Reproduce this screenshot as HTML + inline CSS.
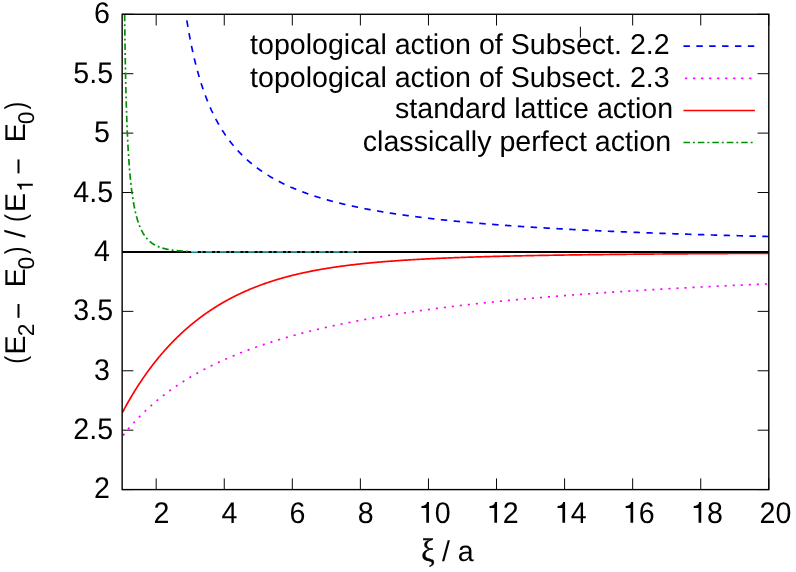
<!DOCTYPE html>
<html><head><meta charset="utf-8"><title>plot</title>
<style>
html,body{margin:0;padding:0;background:#fff;overflow:hidden}
svg{display:block;will-change:transform}
text{font-family:"Liberation Sans",sans-serif;font-size:28.6px;fill:#000;text-rendering:geometricPrecision}
</style></head><body>
<svg width="796" height="572" viewBox="0 0 796 572">
<rect width="796" height="572" fill="#fff"/>
<defs><clipPath id="c"><rect x="122.15" y="14.28" width="646.65" height="475.32000000000005"/></clipPath></defs>

<path d="M156.18,489.6 v-11.2 M156.18,14.28 v11.2 M224.25,489.6 v-11.2 M224.25,14.28 v11.2 M292.32,489.6 v-11.2 M292.32,14.28 v11.2 M360.39,489.6 v-11.2 M360.39,14.28 v11.2 M428.46,489.6 v-11.2 M428.46,14.28 v11.2 M496.53,489.6 v-11.2 M496.53,14.28 v11.2 M564.59,489.6 v-11.2 M580.4,26.7 V37.7 M632.66,489.6 v-11.2 M632.66,14.28 v11.2 M700.73,489.6 v-11.2 M700.73,14.28 v11.2 M768.80,489.6 v-11.2 M768.80,14.28 v11.2 M122.15,489.60 h11.2 M768.8,489.60 h-11.2 M122.15,430.19 h11.2 M768.8,430.19 h-11.2 M122.15,370.77 h11.2 M768.8,370.77 h-11.2 M122.15,311.36 h11.2 M768.8,311.36 h-11.2 M122.15,251.94 h11.2 M768.8,251.94 h-11.2 M122.15,192.52 h11.2 M768.8,192.52 h-11.2 M122.15,133.11 h11.2 M768.8,133.11 h-11.2 M122.15,73.69 h11.2 M768.8,73.69 h-11.2 M122.15,14.28 h11.2 M768.8,14.28 h-11.2" stroke="#000" stroke-width="0.98" fill="none"/>
<g clip-path="url(#c)" fill="none" stroke-width="1.68">
<path d="M186.84,20.48 L186.95,21.13 L187.05,21.78 L187.16,22.42 L187.26,23.06 L187.37,23.70 L187.47,24.34 L187.58,24.97 L187.69,25.60 L187.79,26.22 L187.90,26.85 L188.00,27.47 L188.11,28.09 L188.22,28.70 L188.33,29.31 L188.43,29.92 L188.54,30.53 L188.65,31.13 L188.76,31.74 L188.86,32.33 L188.97,32.93 L189.08,33.52 L189.20,34.18 L189.32,34.83 L189.44,35.48 L189.56,36.13 L189.68,36.77 L189.81,37.41 L189.93,38.05 L190.05,38.68 L190.17,39.31 L190.29,39.94 L190.42,40.57 L190.54,41.19 L190.66,41.81 L190.78,42.42 L190.91,43.04 L191.03,43.65 L191.15,44.26 L191.28,44.86 L191.40,45.46 L191.53,46.06 L191.65,46.66 L191.78,47.25 L191.90,47.84 L192.03,48.43 L192.15,49.02 L192.28,49.60 L192.40,50.18 L192.53,50.76 L192.65,51.33 L192.79,51.96 L192.93,52.59 L193.07,53.21 L193.21,53.83 L193.35,54.45 L193.49,55.06 L193.63,55.67 L193.77,56.28 L193.91,56.89 L194.06,57.49 L194.20,58.09 L194.34,58.69 L194.48,59.28 L194.62,59.87 L194.77,60.46 L194.91,61.04 L195.05,61.63 L195.20,62.21 L195.34,62.78 L195.48,63.36 L195.63,63.93 L195.77,64.50 L195.92,65.07 L196.06,65.63 L196.21,66.19 L196.35,66.75 L196.50,67.31 L196.66,67.91 L196.82,68.51 L196.98,69.11 L197.14,69.70 L197.30,70.30 L197.46,70.89 L197.62,71.47 L197.79,72.06 L197.95,72.64 L198.11,73.21 L198.27,73.79 L198.44,74.36 L198.60,74.93 L198.76,75.50 L198.93,76.06 L199.09,76.62 L199.26,77.18 L199.42,77.74 L199.59,78.29 L199.75,78.84 L199.92,79.39 L200.09,79.94 L200.25,80.48 L200.42,81.02 L200.59,81.56 L200.76,82.10 L200.92,82.63 L201.11,83.21 L201.29,83.78 L201.47,84.35 L201.66,84.91 L201.84,85.48 L202.03,86.04 L202.21,86.60 L202.40,87.15 L202.58,87.71 L202.77,88.26 L202.96,88.81 L203.14,89.35 L203.33,89.89 L203.52,90.43 L203.71,90.97 L203.90,91.51 L204.09,92.04 L204.28,92.57 L204.47,93.10 L204.66,93.62 L204.85,94.14 L205.04,94.66 L205.23,95.18 L205.43,95.70 L205.62,96.21 L205.81,96.72 L206.01,97.23 L206.20,97.73 L206.41,98.27 L206.62,98.81 L206.83,99.35 L207.04,99.89 L207.26,100.42 L207.47,100.95 L207.68,101.47 L207.89,102.00 L208.11,102.52 L208.32,103.04 L208.54,103.55 L208.75,104.07 L208.97,104.58 L209.19,105.09 L209.40,105.60 L209.62,106.10 L209.84,106.60 L210.06,107.10 L210.28,107.60 L210.50,108.09 L210.72,108.59 L210.94,109.08 L211.16,109.57 L211.39,110.05 L211.61,110.53 L211.83,111.02 L212.06,111.50 L212.28,111.97 L212.51,112.45 L212.75,112.95 L212.99,113.46 L213.23,113.96 L213.48,114.46 L213.72,114.96 L213.97,115.45 L214.21,115.94 L214.46,116.43 L214.71,116.92 L214.95,117.40 L215.20,117.89 L215.45,118.37 L215.70,118.85 L215.95,119.32 L216.20,119.80 L216.46,120.27 L216.71,120.74 L216.96,121.20 L217.22,121.67 L217.47,122.13 L217.73,122.59 L217.98,123.05 L218.24,123.51 L218.50,123.96 L218.76,124.42 L219.02,124.87 L219.28,125.32 L219.54,125.76 L219.80,126.21 L220.06,126.65 L220.32,127.09 L220.59,127.53 L220.85,127.96 L221.13,128.43 L221.42,128.89 L221.70,129.35 L221.99,129.80 L222.27,130.26 L222.56,130.71 L222.85,131.16 L223.14,131.61 L223.43,132.06 L223.72,132.50 L224.01,132.94 L224.30,133.38 L224.60,133.82 L224.89,134.26 L225.19,134.69 L225.48,135.13 L225.78,135.56 L226.08,135.98 L226.37,136.41 L226.67,136.83 L226.97,137.26 L227.28,137.68 L227.58,138.10 L227.88,138.51 L228.19,138.93 L228.49,139.34 L228.80,139.75 L229.10,140.16 L229.41,140.57 L229.72,140.98 L230.03,141.38 L230.34,141.78 L230.65,142.18 L230.97,142.58 L231.28,142.98 L231.60,143.37 L231.91,143.77 L232.23,144.16 L232.55,144.55 L232.87,144.94 L233.19,145.33 L233.51,145.71 L233.83,146.10 L234.15,146.48 L234.48,146.86 L234.80,147.24 L235.13,147.61 L235.45,147.99 L235.78,148.36 L236.11,148.74 L236.44,149.11 L236.77,149.48 L237.12,149.87 L237.48,150.25 L237.83,150.64 L238.19,151.03 L238.55,151.41 L238.91,151.79 L239.27,152.17 L239.63,152.55 L239.99,152.93 L240.36,153.31 L240.72,153.68 L241.09,154.05 L241.46,154.42 L241.82,154.79 L242.19,155.16 L242.57,155.52 L242.94,155.89 L243.31,156.25 L243.69,156.61 L244.06,156.97 L244.44,157.33 L244.82,157.69 L245.20,158.04 L245.58,158.40 L245.97,158.75 L246.35,159.10 L246.74,159.45 L247.13,159.79 L247.51,160.14 L247.90,160.49 L248.30,160.83 L248.69,161.17 L249.08,161.51 L249.48,161.85 L249.87,162.19 L250.27,162.52 L250.67,162.86 L251.07,163.19 L251.48,163.52 L251.88,163.85 L252.29,164.18 L252.69,164.51 L253.10,164.84 L253.51,165.16 L253.92,165.49 L254.33,165.81 L254.75,166.13 L255.16,166.45 L255.58,166.77 L256.00,167.09 L256.42,167.41 L256.84,167.72 L257.26,168.03 L257.69,168.35 L258.11,168.66 L258.54,168.97 L258.97,169.28 L259.40,169.58 L259.84,169.89 L260.27,170.20 L260.70,170.50 L261.14,170.80 L261.58,171.10 L262.02,171.40 L262.46,171.70 L262.91,172.00 L263.35,172.30 L263.80,172.59 L264.25,172.89 L264.70,173.18 L265.12,173.46 L265.55,173.73 L265.98,174.00 L266.41,174.28 L266.84,174.55 L267.27,174.82 L267.70,175.09 L268.14,175.36 L268.58,175.62 L269.01,175.89 L269.45,176.15 L269.90,176.42 L270.34,176.68 L270.78,176.95 L271.23,177.21 L271.68,177.47 L272.13,177.73 L272.58,177.99 L273.03,178.24 L273.49,178.50 L273.94,178.76 L274.40,179.01 L274.86,179.27 L275.32,179.52 L275.78,179.77 L276.24,180.02 L276.71,180.27 L277.18,180.52 L277.65,180.77 L278.12,181.02 L278.59,181.27 L279.06,181.51 L279.54,181.76 L280.02,182.00 L280.50,182.25 L280.98,182.49 L281.46,182.73 L281.94,182.97 L282.43,183.21 L282.92,183.45 L283.41,183.69 L283.90,183.93 L284.39,184.17 L284.89,184.40 L285.39,184.64 L285.88,184.87 L286.38,185.11 L286.89,185.34 L287.39,185.57 L287.90,185.81 L288.40,186.04 L288.91,186.27 L289.43,186.50 L289.94,186.72 L290.46,186.95 L290.97,187.18 L291.49,187.40 L292.01,187.63 L292.50,187.84 L293.00,188.05 L293.49,188.26 L293.98,188.47 L294.48,188.68 L294.98,188.88 L295.48,189.09 L295.98,189.30 L296.49,189.50 L296.99,189.71 L297.50,189.91 L298.01,190.11 L298.52,190.32 L299.04,190.52 L299.55,190.72 L300.07,190.92 L300.59,191.12 L301.11,191.32 L301.63,191.52 L302.15,191.72 L302.68,191.92 L303.21,192.11 L303.74,192.31 L304.27,192.51 L304.80,192.70 L305.34,192.90 L305.88,193.09 L306.42,193.28 L306.96,193.48 L307.50,193.67 L308.05,193.86 L308.59,194.05 L309.14,194.24 L309.69,194.43 L310.25,194.62 L310.80,194.81 L311.36,195.00 L311.92,195.19 L312.48,195.38 L313.04,195.56 L313.57,195.74 L314.10,195.91 L314.63,196.08 L315.16,196.25 L315.70,196.43 L316.24,196.60 L316.77,196.77 L317.31,196.94 L317.86,197.11 L318.40,197.28 L318.95,197.45 L319.49,197.62 L320.04,197.78 L320.60,197.95 L321.15,198.12 L321.71,198.28 L322.26,198.45 L322.82,198.62 L323.38,198.78 L323.95,198.95 L324.51,199.11 L325.08,199.27 L325.65,199.44 L326.22,199.60 L326.79,199.76 L327.37,199.93 L327.94,200.09 L328.52,200.25 L329.11,200.41 L329.69,200.57 L330.27,200.73 L330.86,200.89 L331.45,201.05 L332.04,201.21 L332.64,201.36 L333.23,201.52 L333.79,201.67 L334.34,201.81 L334.90,201.96 L335.46,202.10 L336.03,202.25 L336.59,202.39 L337.16,202.54 L337.72,202.68 L338.29,202.82 L338.87,202.96 L339.44,203.11 L340.02,203.25 L340.59,203.39 L341.17,203.53 L341.75,203.67 L342.34,203.81 L342.92,203.95 L343.51,204.09 L344.10,204.23 L344.69,204.37 L345.29,204.51 L345.88,204.65 L346.48,204.79 L347.08,204.92 L347.68,205.06 L348.28,205.20 L348.89,205.34 L349.50,205.47 L350.10,205.61 L350.72,205.74 L351.33,205.88 L351.95,206.01 L352.56,206.15 L353.18,206.28 L353.81,206.42 L354.43,206.55 L355.01,206.67 L355.59,206.80 L356.17,206.92 L356.75,207.04 L357.34,207.16 L357.93,207.29 L358.52,207.41 L359.11,207.53 L359.70,207.65 L360.30,207.77 L360.89,207.89 L361.49,208.01 L362.09,208.13 L362.70,208.25 L363.30,208.37 L363.91,208.49 L364.52,208.61 L365.13,208.72 L365.74,208.84 L366.35,208.96 L366.97,209.08 L367.59,209.19 L368.21,209.31 L368.83,209.43 L369.46,209.55 L370.08,209.66 L370.71,209.78 L371.34,209.89 L371.97,210.01 L372.61,210.12 L373.25,210.24 L373.88,210.35 L374.53,210.47 L375.17,210.58 L375.81,210.70 L376.46,210.81 L377.11,210.92 L377.71,211.03 L378.31,211.13 L378.91,211.23 L379.51,211.34 L380.12,211.44 L380.72,211.54 L381.33,211.65 L381.94,211.75 L382.55,211.85 L383.17,211.95 L383.78,212.05 L384.40,212.15 L385.02,212.26 L385.64,212.36 L386.26,212.46 L386.89,212.56 L387.51,212.66 L388.14,212.76 L388.77,212.86 L389.41,212.96 L390.04,213.06 L390.68,213.16 L391.32,213.26 L391.96,213.36 L392.60,213.45 L393.25,213.55 L393.89,213.65 L394.54,213.75 L395.19,213.85 L395.85,213.94 L396.50,214.04 L397.16,214.14 L397.82,214.24 L398.48,214.33 L399.14,214.43 L399.81,214.53 L400.47,214.62 L401.14,214.72 L401.81,214.82 L402.49,214.91 L403.10,215.00 L403.72,215.08 L404.33,215.17 L404.95,215.26 L405.57,215.34 L406.20,215.43 L406.82,215.52 L407.45,215.60 L408.08,215.69 L408.71,215.77 L409.34,215.86 L409.97,215.94 L410.61,216.03 L411.25,216.11 L411.89,216.20 L412.53,216.28 L413.17,216.37 L413.82,216.45 L414.46,216.53 L415.11,216.62 L415.76,216.70 L416.41,216.79 L417.07,216.87 L417.73,216.95 L418.38,217.04 L419.04,217.12 L419.71,217.20 L420.37,217.28 L421.04,217.37 L421.70,217.45 L422.37,217.53 L423.05,217.61 L423.72,217.69 L424.40,217.78 L425.07,217.86 L425.75,217.94 L426.44,218.02 L427.12,218.10 L427.81,218.18 L428.49,218.26 L429.18,218.34 L429.88,218.43 L430.57,218.51 L431.27,218.59 L431.90,218.66 L432.53,218.73 L433.16,218.80 L433.79,218.87 L434.43,218.95 L435.06,219.02 L435.70,219.09 L436.34,219.16 L436.99,219.23 L437.63,219.30 L438.28,219.37 L438.92,219.44 L439.57,219.51 L440.22,219.58 L440.88,219.65 L441.53,219.73 L442.19,219.80 L442.84,219.87 L443.50,219.94 L444.17,220.01 L444.83,220.08 L445.49,220.14 L446.16,220.21 L446.83,220.28 L447.50,220.35 L448.17,220.42 L448.85,220.49 L449.53,220.56 L450.20,220.63 L450.88,220.70 L451.57,220.77 L452.25,220.84 L452.94,220.90 L453.62,220.97 L454.31,221.04 L455.00,221.11 L455.70,221.18 L456.39,221.24 L457.09,221.31 L457.79,221.38 L458.49,221.45 L459.19,221.51 L459.90,221.58 L460.61,221.65 L461.32,221.72 L462.03,221.78 L462.74,221.85 L463.46,221.92 L464.17,221.98 L464.89,222.05 L465.61,222.12 L466.26,222.17 L466.90,222.23 L467.55,222.29 L468.19,222.35 L468.84,222.41 L469.49,222.47 L470.15,222.53 L470.80,222.58 L471.46,222.64 L472.11,222.70 L472.77,222.76 L473.43,222.82 L474.10,222.88 L474.76,222.93 L475.43,222.99 L476.09,223.05 L476.76,223.11 L477.43,223.16 L478.11,223.22 L478.78,223.28 L479.46,223.34 L480.13,223.39 L480.81,223.45 L481.49,223.51 L482.18,223.56 L482.86,223.62 L483.55,223.68 L484.24,223.73 L484.93,223.79 L485.62,223.85 L486.31,223.90 L487.01,223.96 L487.70,224.02 L488.40,224.07 L489.10,224.13 L489.81,224.18 L490.51,224.24 L491.22,224.30 L491.92,224.35 L492.63,224.41 L493.35,224.46 L494.06,224.52 L494.78,224.57 L495.49,224.63 L496.21,224.68 L496.93,224.74 L497.66,224.79 L498.38,224.85 L499.11,224.90 L499.83,224.96 L500.57,225.01 L501.30,225.07 L502.03,225.12 L502.77,225.18 L503.51,225.23 L504.25,225.29 L504.99,225.34 L505.73,225.40 L506.48,225.45 L507.13,225.50 L507.79,225.54 L508.45,225.59 L509.10,225.64 L509.76,225.69 L510.43,225.73 L511.09,225.78 L511.75,225.83 L512.42,225.87 L513.09,225.92 L513.76,225.97 L514.43,226.01 L515.10,226.06 L515.78,226.11 L516.45,226.15 L517.13,226.20 L517.81,226.25 L518.49,226.29 L519.17,226.34 L519.86,226.38 L520.54,226.43 L521.23,226.48 L521.92,226.52 L522.61,226.57 L523.30,226.61 L523.99,226.66 L524.69,226.71 L525.38,226.75 L526.08,226.80 L526.78,226.84 L527.48,226.89 L528.19,226.93 L528.89,226.98 L529.60,227.02 L530.31,227.07 L531.02,227.12 L531.73,227.16 L532.44,227.21 L533.16,227.25 L533.87,227.30 L534.59,227.34 L535.31,227.39 L536.04,227.43 L536.76,227.47 L537.48,227.52 L538.21,227.56 L538.94,227.61 L539.67,227.65 L540.40,227.70 L541.14,227.74 L541.87,227.79 L542.61,227.83 L543.35,227.88 L544.09,227.92 L544.83,227.96 L545.58,228.01 L546.33,228.05 L547.07,228.10 L547.82,228.14 L548.58,228.18 L549.33,228.23 L550.09,228.27 L550.84,228.32 L551.60,228.36 L552.36,228.40 L553.13,228.45 L553.89,228.49 L554.66,228.53 L555.43,228.58 L556.20,228.62 L556.97,228.66 L557.63,228.70 L558.30,228.74 L558.96,228.77 L559.63,228.81 L560.30,228.85 L560.97,228.88 L561.64,228.92 L562.32,228.96 L562.99,228.99 L563.67,229.03 L564.34,229.07 L565.02,229.10 L565.70,229.14 L566.39,229.18 L567.07,229.21 L567.75,229.25 L568.44,229.29 L569.13,229.32 L569.82,229.36 L570.51,229.40 L571.20,229.43 L571.89,229.47 L572.59,229.50 L573.28,229.54 L573.98,229.58 L574.68,229.61 L575.38,229.65 L576.08,229.68 L576.79,229.72 L577.49,229.76 L578.20,229.79 L578.91,229.83 L579.62,229.86 L580.33,229.90 L581.04,229.93 L581.76,229.97 L582.47,230.01 L583.19,230.04 L583.91,230.08 L584.63,230.11 L585.35,230.15 L586.08,230.18 L586.80,230.22 L587.53,230.25 L588.26,230.29 L588.99,230.32 L589.72,230.36 L590.45,230.40 L591.19,230.43 L591.92,230.47 L592.66,230.50 L593.40,230.54 L594.14,230.57 L594.88,230.61 L595.63,230.64 L596.37,230.68 L597.12,230.71 L597.87,230.74 L598.62,230.78 L599.37,230.81 L600.13,230.85 L600.88,230.88 L601.64,230.92 L602.40,230.95 L603.16,230.99 L603.92,231.02 L604.69,231.06 L605.45,231.09 L606.22,231.12 L606.99,231.16 L607.76,231.19 L608.53,231.23 L609.31,231.26 L610.08,231.30 L610.86,231.33 L611.64,231.36 L612.42,231.40 L613.20,231.43 L613.99,231.47 L614.77,231.50 L615.56,231.53 L616.35,231.57 L617.14,231.60 L617.94,231.64 L618.73,231.67 L619.53,231.70 L620.33,231.74 L621.13,231.77 L621.93,231.80 L622.73,231.84 L623.54,231.87 L624.21,231.90 L624.89,231.93 L625.56,231.95 L626.24,231.98 L626.92,232.01 L627.59,232.04 L628.27,232.07 L628.96,232.09 L629.64,232.12 L630.32,232.15 L631.01,232.18 L631.70,232.20 L632.38,232.23 L633.07,232.26 L633.76,232.29 L634.46,232.31 L635.15,232.34 L635.84,232.37 L636.54,232.40 L637.24,232.42 L637.93,232.45 L638.63,232.48 L639.34,232.51 L640.04,232.53 L640.74,232.56 L641.45,232.59 L642.15,232.62 L642.86,232.64 L643.57,232.67 L644.28,232.70 L644.99,232.72 L645.70,232.75 L646.42,232.78 L647.13,232.81 L647.85,232.83 L648.57,232.86 L649.29,232.89 L650.01,232.91 L650.73,232.94 L651.46,232.97 L652.18,232.99 L652.91,233.02 L653.64,233.05 L654.37,233.07 L655.10,233.10 L655.83,233.13 L656.57,233.16 L657.30,233.18 L658.04,233.21 L658.77,233.24 L659.51,233.26 L660.26,233.29 L661.00,233.31 L661.74,233.34 L662.49,233.37 L663.23,233.39 L663.98,233.42 L664.73,233.45 L665.48,233.47 L666.23,233.50 L666.99,233.53 L667.74,233.55 L668.50,233.58 L669.26,233.61 L670.02,233.63 L670.78,233.66 L671.54,233.68 L672.30,233.71 L673.07,233.74 L673.84,233.76 L674.61,233.79 L675.38,233.82 L676.15,233.84 L676.92,233.87 L677.69,233.89 L678.47,233.92 L679.25,233.95 L680.03,233.97 L680.81,234.00 L681.59,234.02 L682.37,234.05 L683.16,234.08 L683.95,234.10 L684.73,234.13 L685.52,234.15 L686.31,234.18 L687.11,234.20 L687.90,234.23 L688.70,234.26 L689.50,234.28 L690.29,234.31 L691.10,234.33 L691.90,234.36 L692.70,234.38 L693.51,234.41 L694.31,234.44 L695.12,234.46 L695.93,234.49 L696.75,234.51 L697.56,234.54 L698.37,234.56 L699.19,234.59 L700.01,234.61 L700.83,234.64 L701.65,234.66 L702.47,234.69 L703.30,234.71 L704.13,234.74 L704.95,234.76 L705.78,234.79 L706.61,234.82 L707.45,234.84 L708.28,234.87 L709.12,234.89 L709.96,234.92 L710.80,234.94 L711.64,234.97 L712.48,234.99 L713.33,235.02 L714.17,235.04 L715.02,235.07 L715.87,235.09 L716.55,235.11 L717.24,235.13 L717.92,235.15 L718.60,235.17 L719.29,235.19 L719.98,235.21 L720.66,235.23 L721.35,235.25 L722.04,235.27 L722.73,235.29 L723.43,235.31 L724.12,235.33 L724.81,235.35 L725.51,235.37 L726.21,235.39 L726.90,235.41 L727.60,235.43 L728.30,235.45 L729.00,235.47 L729.71,235.49 L730.41,235.51 L731.12,235.53 L731.82,235.55 L732.53,235.56 L733.24,235.58 L733.95,235.60 L734.66,235.62 L735.37,235.64 L736.08,235.66 L736.80,235.68 L737.51,235.70 L738.23,235.72 L738.94,235.74 L739.66,235.76 L740.38,235.78 L741.10,235.80 L741.83,235.82 L742.55,235.84 L743.27,235.86 L744.00,235.88 L744.73,235.90 L745.46,235.91 L746.19,235.93 L746.92,235.95 L747.65,235.97 L748.38,235.99 L749.11,236.01 L749.85,236.03 L750.59,236.05 L751.32,236.07 L752.06,236.09 L752.80,236.11 L753.55,236.13 L754.29,236.14 L755.03,236.16 L755.78,236.18 L756.52,236.20 L757.27,236.22 L758.02,236.24 L758.77,236.26 L759.52,236.28 L760.28,236.30 L761.03,236.32 L761.78,236.34 L762.54,236.35 L763.30,236.37 L764.06,236.39 L764.82,236.41 L765.58,236.43 L766.34,236.45 L767.11,236.47 L767.87,236.49 L768.64,236.51 L768.64,236.51" stroke="#0000ff" stroke-dasharray="6.44 6.44"/>
<path d="M122.15,436.58 L122.58,436.03 L123.01,435.48 L123.44,434.93 L123.87,434.39 L124.31,433.85 L124.74,433.31 L125.17,432.78 L125.60,432.25 L126.03,431.72 L126.46,431.20 L126.89,430.68 L127.32,430.16 L127.76,429.64 L128.19,429.13 L128.62,428.62 L129.05,428.12 L129.48,427.61 L129.91,427.11 L130.34,426.62 L130.77,426.12 L131.21,425.63 L131.64,425.14 L132.07,424.66 L132.50,424.17 L132.93,423.69 L133.36,423.21 L133.79,422.74 L134.22,422.27 L134.66,421.80 L135.09,421.33 L135.52,420.86 L135.95,420.40 L136.38,419.94 L136.81,419.49 L137.24,419.03 L137.67,418.58 L138.11,418.13 L138.54,417.68 L138.97,417.24 L139.40,416.80 L139.83,416.36 L140.26,415.92 L140.69,415.48 L141.12,415.05 L141.56,414.62 L141.99,414.19 L142.42,413.76 L142.85,413.34 L143.28,412.92 L143.71,412.50 L144.14,412.08 L144.57,411.67 L145.01,411.26 L145.44,410.84 L145.87,410.44 L146.30,410.03 L146.73,409.63 L147.16,409.22 L147.59,408.82 L148.02,408.43 L148.46,408.03 L148.89,407.63 L149.32,407.24 L149.75,406.85 L150.18,406.46 L150.61,406.08 L151.04,405.69 L151.47,405.31 L151.91,404.93 L152.34,404.55 L152.77,404.18 L153.20,403.80 L153.63,403.43 L154.06,403.06 L154.49,402.69 L154.92,402.32 L155.36,401.95 L155.79,401.59 L156.22,401.23 L156.65,400.87 L157.08,400.51 L157.51,400.15 L157.94,399.79 L158.37,399.44 L158.81,399.09 L159.24,398.74 L159.67,398.39 L160.10,398.04 L160.53,397.70 L160.96,397.35 L161.39,397.01 L161.82,396.67 L162.26,396.33 L162.69,395.99 L163.12,395.66 L163.55,395.32 L163.98,394.99 L164.41,394.66 L164.84,394.33 L165.27,394.00 L165.71,393.67 L166.14,393.35 L166.57,393.02 L167.00,392.70 L167.43,392.38 L167.86,392.06 L168.29,391.74 L168.72,391.43 L169.16,391.11 L169.59,390.80 L170.02,390.48 L170.45,390.17 L170.88,389.86 L171.31,389.55 L171.74,389.25 L172.17,388.94 L172.61,388.64 L173.04,388.33 L173.47,388.03 L173.90,387.73 L174.33,387.43 L174.76,387.13 L175.19,386.84 L175.62,386.54 L176.06,386.25 L176.49,385.96 L176.92,385.66 L177.35,385.37 L177.78,385.08 L178.21,384.80 L178.64,384.51 L179.07,384.22 L179.51,383.94 L179.94,383.66 L180.37,383.37 L180.80,383.09 L181.23,382.81 L181.66,382.54 L182.09,382.26 L182.52,381.98 L182.96,381.71 L183.39,381.43 L183.82,381.16 L184.25,380.89 L184.68,380.62 L185.11,380.35 L185.76,379.95 L186.41,379.55 L187.05,379.15 L187.70,378.75 L188.35,378.36 L188.99,377.97 L189.64,377.58 L190.29,377.20 L190.93,376.82 L191.58,376.43 L192.23,376.06 L192.87,375.68 L193.52,375.30 L194.17,374.93 L194.81,374.56 L195.46,374.19 L196.11,373.83 L196.76,373.46 L197.40,373.10 L198.05,372.74 L198.70,372.39 L199.34,372.03 L199.99,371.68 L200.64,371.33 L201.28,370.98 L201.93,370.63 L202.58,370.28 L203.22,369.94 L203.87,369.60 L204.52,369.26 L205.16,368.92 L205.81,368.58 L206.46,368.25 L207.11,367.92 L207.75,367.59 L208.40,367.26 L209.05,366.93 L209.69,366.61 L210.34,366.28 L210.99,365.96 L211.63,365.64 L212.28,365.32 L212.93,365.01 L213.57,364.69 L214.22,364.38 L214.87,364.07 L215.51,363.76 L216.16,363.45 L216.81,363.14 L217.45,362.84 L218.10,362.53 L218.75,362.23 L219.40,361.93 L220.04,361.63 L220.69,361.33 L221.34,361.04 L221.98,360.74 L222.63,360.45 L223.28,360.16 L223.92,359.87 L224.57,359.58 L225.22,359.30 L225.86,359.01 L226.51,358.73 L227.16,358.44 L227.80,358.16 L228.45,357.88 L229.10,357.61 L229.75,357.33 L230.39,357.05 L231.04,356.78 L231.69,356.51 L232.33,356.24 L232.98,355.97 L233.63,355.70 L234.27,355.43 L234.92,355.16 L235.57,354.90 L236.21,354.64 L236.86,354.37 L237.51,354.11 L238.15,353.85 L238.80,353.59 L239.45,353.34 L240.10,353.08 L240.74,352.83 L241.39,352.57 L242.04,352.32 L242.68,352.07 L243.33,351.82 L243.98,351.57 L244.62,351.32 L245.27,351.08 L245.92,350.83 L246.56,350.59 L247.21,350.35 L247.86,350.10 L248.50,349.86 L249.15,349.62 L249.80,349.39 L250.45,349.15 L251.09,348.91 L251.74,348.68 L252.39,348.44 L253.03,348.21 L253.68,347.98 L254.33,347.75 L254.97,347.52 L255.62,347.29 L256.27,347.06 L256.91,346.83 L257.56,346.61 L258.21,346.38 L258.85,346.16 L259.50,345.94 L260.15,345.72 L260.79,345.50 L261.44,345.28 L262.09,345.06 L262.74,344.84 L263.38,344.62 L264.03,344.41 L264.68,344.19 L265.32,343.98 L265.97,343.77 L266.62,343.55 L267.26,343.34 L267.91,343.13 L268.56,342.92 L269.20,342.72 L269.85,342.51 L270.50,342.30 L271.14,342.10 L271.79,341.89 L272.44,341.69 L273.09,341.48 L273.73,341.28 L274.38,341.08 L275.03,340.88 L275.67,340.68 L276.32,340.48 L276.97,340.29 L277.61,340.09 L278.26,339.89 L278.91,339.70 L279.55,339.50 L280.20,339.31 L280.85,339.12 L281.49,338.92 L282.14,338.73 L282.79,338.54 L283.44,338.35 L284.08,338.16 L284.73,337.98 L285.38,337.79 L286.02,337.60 L286.67,337.42 L287.32,337.23 L287.96,337.05 L288.61,336.86 L289.26,336.68 L289.90,336.50 L290.55,336.32 L291.20,336.14 L291.84,335.96 L292.49,335.78 L293.14,335.60 L293.79,335.42 L294.43,335.25 L295.08,335.07 L295.73,334.89 L296.37,334.72 L297.02,334.55 L297.67,334.37 L298.31,334.20 L298.96,334.03 L299.61,333.86 L300.25,333.69 L300.90,333.52 L301.55,333.35 L302.19,333.18 L302.84,333.01 L303.49,332.84 L304.13,332.68 L304.78,332.51 L305.43,332.34 L306.08,332.18 L306.72,332.02 L307.37,331.85 L308.02,331.69 L308.66,331.53 L309.31,331.37 L309.96,331.21 L310.60,331.05 L311.25,330.89 L311.90,330.73 L312.54,330.57 L313.19,330.41 L313.84,330.25 L314.48,330.10 L315.13,329.94 L315.78,329.79 L316.43,329.63 L317.07,329.48 L317.72,329.32 L318.37,329.17 L319.01,329.02 L319.66,328.87 L320.31,328.71 L320.95,328.56 L321.60,328.41 L322.25,328.26 L322.89,328.11 L323.54,327.97 L324.19,327.82 L324.83,327.67 L325.48,327.52 L326.13,327.38 L326.78,327.23 L327.42,327.09 L328.07,326.94 L328.72,326.80 L329.36,326.65 L330.01,326.51 L330.66,326.37 L331.30,326.23 L331.95,326.08 L332.60,325.94 L333.24,325.80 L333.89,325.66 L334.54,325.52 L335.18,325.38 L335.83,325.25 L336.48,325.11 L337.13,324.97 L337.77,324.83 L338.42,324.70 L339.07,324.56 L339.71,324.43 L340.36,324.29 L341.01,324.16 L341.65,324.02 L342.30,323.89 L342.95,323.75 L343.59,323.62 L344.24,323.49 L344.89,323.36 L345.53,323.23 L346.18,323.10 L346.83,322.97 L347.47,322.84 L348.12,322.71 L348.77,322.58 L349.42,322.45 L350.06,322.32 L350.71,322.19 L351.36,322.07 L352.00,321.94 L352.65,321.81 L353.30,321.69 L353.94,321.56 L354.59,321.44 L355.24,321.31 L355.88,321.19 L356.53,321.06 L357.18,320.94 L357.82,320.82 L358.47,320.70 L359.12,320.57 L359.77,320.45 L360.41,320.33 L361.06,320.21 L361.71,320.09 L362.35,319.97 L363.00,319.85 L363.65,319.73 L364.29,319.61 L364.94,319.49 L365.59,319.37 L366.23,319.26 L366.88,319.14 L367.53,319.02 L368.17,318.91 L368.82,318.79 L369.47,318.68 L370.12,318.56 L370.76,318.45 L371.41,318.33 L372.06,318.22 L372.70,318.10 L373.35,317.99 L374.00,317.88 L374.64,317.76 L375.29,317.65 L375.94,317.54 L376.58,317.43 L377.23,317.32 L377.88,317.21 L378.52,317.10 L379.17,316.99 L379.82,316.88 L380.47,316.77 L381.11,316.66 L381.76,316.55 L382.41,316.44 L383.05,316.33 L383.70,316.23 L384.35,316.12 L384.99,316.01 L385.64,315.90 L386.29,315.80 L386.93,315.69 L387.58,315.59 L388.23,315.48 L388.87,315.38 L389.52,315.27 L390.17,315.17 L390.81,315.06 L391.46,314.96 L392.11,314.86 L392.76,314.75 L393.40,314.65 L394.05,314.55 L394.70,314.45 L395.34,314.35 L395.99,314.25 L396.64,314.14 L397.28,314.04 L397.93,313.94 L398.58,313.84 L399.22,313.74 L399.87,313.64 L400.52,313.54 L401.16,313.45 L401.81,313.35 L402.46,313.25 L403.11,313.15 L403.75,313.05 L404.40,312.96 L405.05,312.86 L405.69,312.76 L406.34,312.67 L406.99,312.57 L407.63,312.47 L408.28,312.38 L408.93,312.28 L409.57,312.19 L410.22,312.09 L410.87,312.00 L411.51,311.91 L412.16,311.81 L412.81,311.72 L413.46,311.63 L414.10,311.53 L414.75,311.44 L415.40,311.35 L416.04,311.26 L416.69,311.16 L417.34,311.07 L417.98,310.98 L418.63,310.89 L419.28,310.80 L419.92,310.71 L420.57,310.62 L421.22,310.53 L421.86,310.44 L422.51,310.35 L423.16,310.26 L423.81,310.17 L424.45,310.08 L425.10,310.00 L425.75,309.91 L426.39,309.82 L427.04,309.73 L427.69,309.64 L428.33,309.56 L428.98,309.47 L429.63,309.38 L430.27,309.30 L430.92,309.21 L431.57,309.13 L432.21,309.04 L432.86,308.96 L433.51,308.87 L434.15,308.79 L434.80,308.70 L435.45,308.62 L436.10,308.53 L436.74,308.45 L437.39,308.37 L438.04,308.28 L438.68,308.20 L439.33,308.12 L439.98,308.03 L440.62,307.95 L441.27,307.87 L441.92,307.79 L442.56,307.71 L443.21,307.62 L443.86,307.54 L444.50,307.46 L445.15,307.38 L445.80,307.30 L446.45,307.22 L447.09,307.14 L447.74,307.06 L448.39,306.98 L449.03,306.90 L449.68,306.82 L450.33,306.74 L450.97,306.66 L451.62,306.59 L452.27,306.51 L452.91,306.43 L453.56,306.35 L454.21,306.27 L454.85,306.20 L455.50,306.12 L456.15,306.04 L456.80,305.97 L457.44,305.89 L458.09,305.81 L458.74,305.74 L459.38,305.66 L460.03,305.58 L460.68,305.51 L461.32,305.43 L461.97,305.36 L462.62,305.28 L463.26,305.21 L463.91,305.13 L464.56,305.06 L465.20,304.99 L465.85,304.91 L466.50,304.84 L467.14,304.77 L467.79,304.69 L468.44,304.62 L469.09,304.55 L469.73,304.47 L470.38,304.40 L471.03,304.33 L471.67,304.26 L472.32,304.18 L472.97,304.11 L473.61,304.04 L474.26,303.97 L474.91,303.90 L475.55,303.83 L476.20,303.76 L476.85,303.69 L477.49,303.62 L478.14,303.55 L478.79,303.48 L479.44,303.41 L480.08,303.34 L480.73,303.27 L481.38,303.20 L482.02,303.13 L482.67,303.06 L483.32,302.99 L483.96,302.92 L484.61,302.85 L485.26,302.79 L485.90,302.72 L486.55,302.65 L487.20,302.58 L487.84,302.51 L488.49,302.45 L489.14,302.38 L489.79,302.31 L490.43,302.25 L491.08,302.18 L491.73,302.11 L492.37,302.05 L493.02,301.98 L493.67,301.92 L494.31,301.85 L494.96,301.78 L495.61,301.72 L496.25,301.65 L496.90,301.59 L497.55,301.52 L498.19,301.46 L498.84,301.39 L499.49,301.33 L500.14,301.27 L500.78,301.20 L501.43,301.14 L502.08,301.07 L502.72,301.01 L503.37,300.95 L504.02,300.88 L504.66,300.82 L505.31,300.76 L505.96,300.69 L506.60,300.63 L507.25,300.57 L507.90,300.51 L508.54,300.44 L509.19,300.38 L509.84,300.32 L510.48,300.26 L511.13,300.20 L511.78,300.14 L512.43,300.07 L513.07,300.01 L513.72,299.95 L514.37,299.89 L515.01,299.83 L515.66,299.77 L516.31,299.71 L516.95,299.65 L517.60,299.59 L518.25,299.53 L518.89,299.47 L519.54,299.41 L520.19,299.35 L520.83,299.29 L521.48,299.23 L522.13,299.17 L522.78,299.12 L523.42,299.06 L524.07,299.00 L524.72,298.94 L525.36,298.88 L526.01,298.82 L526.66,298.76 L527.30,298.71 L527.95,298.65 L528.60,298.59 L529.24,298.53 L529.89,298.48 L530.54,298.42 L531.18,298.36 L531.83,298.31 L532.48,298.25 L533.13,298.19 L533.77,298.14 L534.42,298.08 L535.07,298.02 L535.71,297.97 L536.36,297.91 L537.01,297.86 L537.65,297.80 L538.30,297.74 L538.95,297.69 L539.59,297.63 L540.24,297.58 L540.89,297.52 L541.53,297.47 L542.18,297.41 L542.83,297.36 L543.48,297.30 L544.12,297.25 L544.77,297.20 L545.42,297.14 L546.06,297.09 L546.71,297.03 L547.36,296.98 L548.00,296.93 L548.65,296.87 L549.30,296.82 L549.94,296.77 L550.59,296.71 L551.45,296.64 L552.32,296.57 L553.18,296.50 L554.04,296.43 L554.90,296.36 L555.77,296.29 L556.63,296.22 L557.49,296.15 L558.35,296.09 L559.22,296.02 L560.08,295.95 L560.94,295.88 L561.80,295.81 L562.67,295.74 L563.53,295.68 L564.39,295.61 L565.25,295.54 L566.12,295.47 L566.98,295.41 L567.84,295.34 L568.70,295.27 L569.57,295.21 L570.43,295.14 L571.29,295.08 L572.15,295.01 L573.02,294.95 L573.88,294.88 L574.74,294.81 L575.60,294.75 L576.47,294.69 L577.33,294.62 L578.19,294.56 L579.05,294.49 L579.92,294.43 L580.78,294.36 L581.64,294.30 L582.50,294.24 L583.37,294.17 L584.23,294.11 L585.09,294.05 L585.95,293.99 L586.82,293.92 L587.68,293.86 L588.54,293.80 L589.40,293.74 L590.27,293.68 L591.13,293.61 L591.99,293.55 L592.85,293.49 L593.72,293.43 L594.58,293.37 L595.44,293.31 L596.30,293.25 L597.16,293.19 L598.03,293.13 L598.89,293.07 L599.75,293.01 L600.61,292.95 L601.48,292.89 L602.34,292.83 L603.20,292.77 L604.06,292.71 L604.93,292.65 L605.79,292.60 L606.65,292.54 L607.51,292.48 L608.38,292.42 L609.24,292.36 L610.10,292.31 L610.96,292.25 L611.83,292.19 L612.69,292.13 L613.55,292.08 L614.41,292.02 L615.28,291.96 L616.14,291.91 L617.00,291.85 L617.86,291.79 L618.73,291.74 L619.59,291.68 L620.45,291.63 L621.31,291.57 L622.18,291.51 L623.04,291.46 L623.90,291.40 L624.76,291.35 L625.63,291.29 L626.49,291.24 L627.35,291.18 L628.21,291.13 L629.08,291.08 L629.94,291.02 L630.80,290.97 L631.66,290.91 L632.53,290.86 L633.39,290.81 L634.25,290.75 L635.11,290.70 L635.98,290.65 L636.84,290.59 L637.70,290.54 L638.56,290.49 L639.43,290.44 L640.29,290.38 L641.15,290.33 L642.01,290.28 L642.88,290.23 L643.74,290.17 L644.60,290.12 L645.46,290.07 L646.33,290.02 L647.19,289.97 L648.05,289.92 L648.91,289.87 L649.78,289.82 L650.64,289.76 L651.50,289.71 L652.36,289.66 L653.23,289.61 L654.09,289.56 L654.95,289.51 L655.81,289.46 L656.68,289.41 L657.54,289.36 L658.40,289.31 L659.26,289.26 L660.13,289.21 L660.99,289.17 L661.85,289.12 L662.71,289.07 L663.58,289.02 L664.44,288.97 L665.30,288.92 L666.16,288.87 L667.03,288.82 L667.89,288.78 L668.75,288.73 L669.61,288.68 L670.48,288.63 L671.34,288.59 L672.20,288.54 L673.06,288.49 L673.93,288.44 L674.79,288.40 L675.65,288.35 L676.51,288.30 L677.38,288.26 L678.24,288.21 L679.10,288.16 L679.96,288.12 L680.83,288.07 L681.69,288.02 L682.55,287.98 L683.41,287.93 L684.28,287.88 L685.14,287.84 L686.00,287.79 L686.86,287.75 L687.73,287.70 L688.59,287.66 L689.45,287.61 L690.31,287.57 L691.18,287.52 L692.04,287.48 L692.90,287.43 L693.76,287.39 L694.63,287.34 L695.49,287.30 L696.35,287.25 L697.21,287.21 L698.08,287.17 L698.94,287.12 L699.80,287.08 L700.66,287.03 L701.53,286.99 L702.39,286.95 L703.25,286.90 L704.11,286.86 L704.98,286.82 L705.84,286.77 L706.70,286.73 L707.56,286.69 L708.43,286.65 L709.29,286.60 L710.15,286.56 L711.01,286.52 L711.88,286.48 L712.74,286.43 L713.60,286.39 L714.46,286.35 L715.33,286.31 L716.19,286.27 L717.05,286.22 L717.91,286.18 L718.78,286.14 L719.64,286.10 L720.50,286.06 L721.36,286.02 L722.23,285.98 L723.09,285.93 L723.95,285.89 L724.81,285.85 L725.68,285.81 L726.54,285.77 L727.40,285.73 L728.26,285.69 L729.13,285.65 L729.99,285.61 L730.85,285.57 L731.71,285.53 L732.58,285.49 L733.44,285.45 L734.30,285.41 L735.16,285.37 L736.03,285.33 L736.89,285.29 L737.75,285.25 L738.61,285.21 L739.48,285.17 L740.34,285.13 L741.20,285.09 L742.06,285.06 L742.93,285.02 L743.79,284.98 L744.65,284.94 L745.51,284.90 L746.38,284.86 L747.24,284.82 L748.10,284.78 L748.96,284.75 L749.83,284.71 L750.69,284.67 L751.55,284.63 L752.41,284.59 L753.28,284.56 L754.14,284.52 L755.00,284.48 L755.86,284.44 L756.73,284.41 L757.59,284.37 L758.45,284.33 L759.31,284.29 L760.18,284.26 L761.04,284.22 L761.90,284.18 L762.76,284.15 L763.63,284.11 L764.49,284.07 L765.35,284.04 L766.21,284.00 L767.08,283.96 L767.94,283.93 L768.80,283.89 L768.80,283.89" stroke="#ff00ff" stroke-dasharray="2.1 5.95" stroke-dashoffset="-1.4"/>
<path d="M122.15,412.96 L122.58,412.15 L123.01,411.34 L123.44,410.53 L123.87,409.73 L124.31,408.94 L124.74,408.14 L125.17,407.36 L125.60,406.57 L126.03,405.79 L126.46,405.02 L126.89,404.25 L127.32,403.48 L127.76,402.72 L128.19,401.97 L128.62,401.21 L129.05,400.46 L129.48,399.72 L129.91,398.98 L130.34,398.24 L130.77,397.51 L131.21,396.78 L131.64,396.05 L132.07,395.33 L132.50,394.61 L132.93,393.90 L133.36,393.19 L133.79,392.49 L134.22,391.78 L134.66,391.09 L135.09,390.39 L135.52,389.70 L135.95,389.01 L136.38,388.33 L136.81,387.65 L137.24,386.97 L137.67,386.30 L138.11,385.63 L138.54,384.97 L138.97,384.31 L139.40,383.65 L139.83,382.99 L140.26,382.34 L140.69,381.69 L141.12,381.05 L141.56,380.41 L141.99,379.77 L142.42,379.14 L142.85,378.51 L143.28,377.88 L143.71,377.25 L144.14,376.63 L144.57,376.01 L145.01,375.40 L145.44,374.79 L145.87,374.18 L146.30,373.57 L146.73,372.97 L147.16,372.37 L147.59,371.78 L148.02,371.18 L148.46,370.59 L148.89,370.01 L149.32,369.42 L149.75,368.84 L150.18,368.27 L150.61,367.69 L151.04,367.12 L151.47,366.55 L151.91,365.98 L152.34,365.42 L152.77,364.86 L153.20,364.30 L153.63,363.75 L154.06,363.20 L154.49,362.65 L154.92,362.10 L155.36,361.56 L155.79,361.02 L156.22,360.48 L156.65,359.95 L157.08,359.41 L157.51,358.88 L157.94,358.36 L158.37,357.83 L158.81,357.31 L159.24,356.79 L159.67,356.28 L160.10,355.76 L160.53,355.25 L160.96,354.74 L161.39,354.24 L161.82,353.73 L162.26,353.23 L162.69,352.73 L163.12,352.24 L163.55,351.74 L163.98,351.25 L164.41,350.76 L164.84,350.28 L165.27,349.79 L165.71,349.31 L166.14,348.83 L166.57,348.36 L167.00,347.88 L167.43,347.41 L167.86,346.94 L168.29,346.47 L168.72,346.01 L169.16,345.55 L169.59,345.09 L170.02,344.63 L170.45,344.17 L170.88,343.72 L171.31,343.27 L171.74,342.82 L172.17,342.37 L172.61,341.93 L173.04,341.48 L173.47,341.04 L173.90,340.61 L174.33,340.17 L174.76,339.74 L175.19,339.31 L175.62,338.88 L176.06,338.45 L176.49,338.02 L176.92,337.60 L177.35,337.18 L177.78,336.76 L178.21,336.34 L178.64,335.93 L179.07,335.52 L179.51,335.11 L179.94,334.70 L180.37,334.29 L180.80,333.89 L181.23,333.48 L181.66,333.08 L182.09,332.68 L182.52,332.29 L182.96,331.89 L183.39,331.50 L183.82,331.11 L184.25,330.72 L184.68,330.33 L185.11,329.95 L185.54,329.56 L185.97,329.18 L186.41,328.80 L186.84,328.43 L187.27,328.05 L187.70,327.68 L188.13,327.30 L188.56,326.93 L188.99,326.57 L189.42,326.20 L189.86,325.83 L190.29,325.47 L190.72,325.11 L191.15,324.75 L191.58,324.39 L192.01,324.04 L192.44,323.68 L192.87,323.33 L193.31,322.98 L193.74,322.63 L194.17,322.28 L194.60,321.94 L195.03,321.59 L195.46,321.25 L195.89,320.91 L196.32,320.57 L196.76,320.24 L197.19,319.90 L197.62,319.57 L198.05,319.23 L198.48,318.90 L198.91,318.57 L199.34,318.25 L199.77,317.92 L200.21,317.60 L200.64,317.28 L201.07,316.95 L201.50,316.64 L201.93,316.32 L202.36,316.00 L202.79,315.69 L203.22,315.37 L203.66,315.06 L204.09,314.75 L204.52,314.44 L204.95,314.14 L205.38,313.83 L205.81,313.53 L206.24,313.23 L206.67,312.92 L207.11,312.63 L207.54,312.33 L207.97,312.03 L208.40,311.74 L208.83,311.44 L209.26,311.15 L209.69,310.86 L210.12,310.57 L210.55,310.28 L210.99,310.00 L211.42,309.71 L211.85,309.43 L212.28,309.15 L212.71,308.87 L213.14,308.59 L213.57,308.31 L214.00,308.03 L214.44,307.76 L214.87,307.48 L215.30,307.21 L215.73,306.94 L216.16,306.67 L216.81,306.27 L217.45,305.87 L218.10,305.47 L218.75,305.08 L219.40,304.69 L220.04,304.30 L220.69,303.92 L221.34,303.54 L221.98,303.16 L222.63,302.78 L223.28,302.41 L223.92,302.04 L224.57,301.67 L225.22,301.31 L225.86,300.95 L226.51,300.59 L227.16,300.23 L227.80,299.88 L228.45,299.53 L229.10,299.18 L229.75,298.83 L230.39,298.49 L231.04,298.15 L231.69,297.81 L232.33,297.48 L232.98,297.15 L233.63,296.82 L234.27,296.49 L234.92,296.16 L235.57,295.84 L236.21,295.52 L236.86,295.20 L237.51,294.89 L238.15,294.57 L238.80,294.26 L239.45,293.95 L240.10,293.65 L240.74,293.34 L241.39,293.04 L242.04,292.74 L242.68,292.45 L243.33,292.15 L243.98,291.86 L244.62,291.57 L245.27,291.28 L245.92,291.00 L246.56,290.72 L247.21,290.43 L247.86,290.16 L248.50,289.88 L249.15,289.60 L249.80,289.33 L250.45,289.06 L251.09,288.79 L251.74,288.53 L252.39,288.26 L253.03,288.00 L253.68,287.74 L254.33,287.48 L254.97,287.23 L255.62,286.97 L256.27,286.72 L256.91,286.47 L257.56,286.22 L258.21,285.98 L258.85,285.73 L259.50,285.49 L260.15,285.25 L260.79,285.01 L261.44,284.77 L262.09,284.54 L262.74,284.31 L263.38,284.07 L264.03,283.84 L264.68,283.62 L265.32,283.39 L265.97,283.17 L266.62,282.94 L267.26,282.72 L267.91,282.51 L268.56,282.29 L269.20,282.07 L269.85,281.86 L270.50,281.65 L271.14,281.44 L271.79,281.23 L272.44,281.02 L273.09,280.82 L273.73,280.61 L274.38,280.41 L275.03,280.21 L275.67,280.01 L276.32,279.81 L276.97,279.62 L277.61,279.42 L278.26,279.23 L278.91,279.04 L279.55,278.85 L280.20,278.66 L280.85,278.47 L281.49,278.29 L282.14,278.10 L282.79,277.92 L283.44,277.74 L284.08,277.56 L284.73,277.38 L285.38,277.21 L286.02,277.03 L286.67,276.86 L287.32,276.68 L287.96,276.51 L288.61,276.34 L289.26,276.17 L289.90,276.01 L290.55,275.84 L291.20,275.68 L291.84,275.51 L292.49,275.35 L293.14,275.19 L293.79,275.03 L294.43,274.87 L295.08,274.72 L295.73,274.56 L296.37,274.41 L297.02,274.26 L297.67,274.10 L298.31,273.95 L298.96,273.80 L299.61,273.66 L300.25,273.51 L300.90,273.36 L301.55,273.22 L302.19,273.07 L302.84,272.93 L303.49,272.79 L304.13,272.65 L304.78,272.51 L305.43,272.37 L306.08,272.24 L306.72,272.10 L307.37,271.97 L308.02,271.83 L308.66,271.70 L309.31,271.57 L309.96,271.44 L310.60,271.31 L311.25,271.18 L311.90,271.06 L312.54,270.93 L313.19,270.80 L313.84,270.68 L314.48,270.56 L315.13,270.43 L315.78,270.31 L316.43,270.19 L317.07,270.07 L317.72,269.96 L318.37,269.84 L319.01,269.72 L319.66,269.61 L320.31,269.49 L320.95,269.38 L321.60,269.27 L322.25,269.15 L322.89,269.04 L323.54,268.93 L324.19,268.82 L324.83,268.71 L325.48,268.61 L326.13,268.50 L326.78,268.39 L327.42,268.29 L328.07,268.19 L328.72,268.08 L329.36,267.98 L330.01,267.88 L330.66,267.78 L331.30,267.68 L331.95,267.58 L332.60,267.48 L333.24,267.38 L333.89,267.29 L334.54,267.19 L335.18,267.09 L335.83,267.00 L336.48,266.91 L337.13,266.81 L337.77,266.72 L338.42,266.63 L339.07,266.54 L339.71,266.45 L340.36,266.36 L341.01,266.27 L341.65,266.18 L342.30,266.09 L342.95,266.01 L343.59,265.92 L344.24,265.84 L344.89,265.75 L345.53,265.67 L346.18,265.58 L346.83,265.50 L347.47,265.42 L348.12,265.34 L348.77,265.26 L349.42,265.18 L350.06,265.10 L350.71,265.02 L351.36,264.94 L352.00,264.86 L352.65,264.79 L353.30,264.71 L353.94,264.63 L354.59,264.56 L355.24,264.48 L355.88,264.41 L356.53,264.34 L357.18,264.26 L357.82,264.19 L358.47,264.12 L359.12,264.05 L359.77,263.98 L360.41,263.91 L361.06,263.84 L361.71,263.77 L362.35,263.70 L363.00,263.63 L363.65,263.57 L364.29,263.50 L364.94,263.43 L365.59,263.37 L366.23,263.30 L366.88,263.24 L367.53,263.17 L368.17,263.11 L368.82,263.04 L369.47,262.98 L370.12,262.92 L370.76,262.86 L371.41,262.80 L372.06,262.73 L372.70,262.67 L373.35,262.61 L374.00,262.55 L374.64,262.49 L375.29,262.44 L375.94,262.38 L376.58,262.32 L377.23,262.26 L377.88,262.21 L378.52,262.15 L379.17,262.09 L379.82,262.04 L380.47,261.98 L381.11,261.93 L381.76,261.87 L382.41,261.82 L383.05,261.77 L383.70,261.71 L384.56,261.64 L385.42,261.57 L386.29,261.50 L387.15,261.43 L388.01,261.37 L388.87,261.30 L389.74,261.23 L390.60,261.17 L391.46,261.10 L392.32,261.04 L393.19,260.98 L394.05,260.91 L394.91,260.85 L395.77,260.79 L396.64,260.73 L397.50,260.67 L398.36,260.61 L399.22,260.55 L400.09,260.49 L400.95,260.43 L401.81,260.37 L402.67,260.31 L403.54,260.26 L404.40,260.20 L405.26,260.15 L406.12,260.09 L406.99,260.04 L407.85,259.98 L408.71,259.93 L409.57,259.88 L410.44,259.82 L411.30,259.77 L412.16,259.72 L413.02,259.67 L413.89,259.62 L414.75,259.57 L415.61,259.52 L416.47,259.47 L417.34,259.42 L418.20,259.37 L419.06,259.33 L419.92,259.28 L420.79,259.23 L421.65,259.19 L422.51,259.14 L423.37,259.09 L424.24,259.05 L425.10,259.00 L425.96,258.96 L426.82,258.92 L427.69,258.87 L428.55,258.83 L429.41,258.79 L430.27,258.74 L431.14,258.70 L432.00,258.66 L432.86,258.62 L433.72,258.58 L434.59,258.54 L435.45,258.50 L436.31,258.46 L437.17,258.42 L438.04,258.38 L438.90,258.34 L439.76,258.30 L440.62,258.26 L441.49,258.23 L442.35,258.19 L443.21,258.15 L444.07,258.12 L444.94,258.08 L445.80,258.04 L446.66,258.01 L447.52,257.97 L448.39,257.94 L449.25,257.90 L450.11,257.87 L450.97,257.83 L451.84,257.80 L452.70,257.76 L453.56,257.73 L454.42,257.70 L455.29,257.67 L456.15,257.63 L457.01,257.60 L457.87,257.57 L458.74,257.54 L459.60,257.51 L460.46,257.47 L461.32,257.44 L462.19,257.41 L463.05,257.38 L463.91,257.35 L464.77,257.32 L465.64,257.29 L466.50,257.26 L467.36,257.23 L468.22,257.21 L469.09,257.18 L469.95,257.15 L470.81,257.12 L471.67,257.09 L472.54,257.06 L473.40,257.04 L474.26,257.01 L475.12,256.98 L475.99,256.96 L476.85,256.93 L477.71,256.90 L478.57,256.88 L479.44,256.85 L480.30,256.82 L481.16,256.80 L482.02,256.77 L482.89,256.75 L483.75,256.72 L484.61,256.70 L485.47,256.67 L486.34,256.65 L487.20,256.62 L488.06,256.60 L488.92,256.58 L489.79,256.55 L490.65,256.53 L491.51,256.51 L492.37,256.48 L493.24,256.46 L494.10,256.44 L494.96,256.41 L495.82,256.39 L496.69,256.37 L497.55,256.35 L498.41,256.33 L499.27,256.30 L500.14,256.28 L501.00,256.26 L501.86,256.24 L502.72,256.22 L503.59,256.20 L504.45,256.18 L505.31,256.16 L506.17,256.13 L507.04,256.11 L507.90,256.09 L508.76,256.07 L509.62,256.05 L510.48,256.03 L511.35,256.01 L512.21,256.00 L513.07,255.98 L513.93,255.96 L514.80,255.94 L515.66,255.92 L516.52,255.90 L517.38,255.88 L518.25,255.86 L519.11,255.84 L519.97,255.83 L520.83,255.81 L521.70,255.79 L522.56,255.77 L523.42,255.75 L524.28,255.74 L525.15,255.72 L526.01,255.70 L526.87,255.68 L527.73,255.67 L528.60,255.65 L529.46,255.63 L530.32,255.62 L531.18,255.60 L532.05,255.58 L532.91,255.57 L533.77,255.55 L534.63,255.53 L535.50,255.52 L536.36,255.50 L537.22,255.49 L538.08,255.47 L538.95,255.46 L539.81,255.44 L540.67,255.42 L541.53,255.41 L542.40,255.39 L543.26,255.38 L544.12,255.36 L544.98,255.35 L545.85,255.33 L546.71,255.32 L547.57,255.30 L548.43,255.29 L549.30,255.28 L550.16,255.26 L551.02,255.25 L551.88,255.23 L552.75,255.22 L553.61,255.20 L554.47,255.19 L555.33,255.18 L556.20,255.16 L557.06,255.15 L557.92,255.14 L558.78,255.12 L559.65,255.11 L560.51,255.10 L561.37,255.08 L562.23,255.07 L563.10,255.06 L563.96,255.04 L564.82,255.03 L565.68,255.02 L566.55,255.00 L567.41,254.99 L568.27,254.98 L569.13,254.97 L570.00,254.95 L570.86,254.94 L571.72,254.93 L572.58,254.92 L573.45,254.91 L574.31,254.89 L575.17,254.88 L576.03,254.87 L576.90,254.86 L577.76,254.85 L578.62,254.83 L579.48,254.82 L580.35,254.81 L581.21,254.80 L582.07,254.79 L582.93,254.78 L583.80,254.77 L584.66,254.76 L585.52,254.74 L586.38,254.73 L587.25,254.72 L588.11,254.71 L588.97,254.70 L589.83,254.69 L590.70,254.68 L591.56,254.67 L592.42,254.66 L593.28,254.65 L594.15,254.64 L595.01,254.63 L595.87,254.62 L596.73,254.61 L597.60,254.60 L598.46,254.59 L599.32,254.57 L600.18,254.56 L601.05,254.55 L601.91,254.55 L602.77,254.54 L603.63,254.53 L604.50,254.52 L605.36,254.51 L606.22,254.50 L607.08,254.49 L607.95,254.48 L608.81,254.47 L609.67,254.46 L610.53,254.45 L611.40,254.44 L612.26,254.43 L613.12,254.42 L613.98,254.41 L614.85,254.40 L615.71,254.39 L616.57,254.38 L617.43,254.38 L618.30,254.37 L619.16,254.36 L620.02,254.35 L620.88,254.34 L621.75,254.33 L622.61,254.32 L623.47,254.31 L624.33,254.31 L625.20,254.30 L626.06,254.29 L626.92,254.28 L627.78,254.27 L628.65,254.26 L629.51,254.26 L630.37,254.25 L631.23,254.24 L632.10,254.23 L632.96,254.22 L633.82,254.21 L634.68,254.21 L635.55,254.20 L636.41,254.19 L637.27,254.18 L638.13,254.17 L639.00,254.17 L639.86,254.16 L640.72,254.15 L641.58,254.14 L642.45,254.14 L643.31,254.13 L644.17,254.12 L645.03,254.11 L645.90,254.11 L646.76,254.10 L647.62,254.09 L648.48,254.08 L649.35,254.08 L650.21,254.07 L651.07,254.06 L651.93,254.05 L652.80,254.05 L653.66,254.04 L654.52,254.03 L655.38,254.03 L656.25,254.02 L657.11,254.01 L657.97,254.00 L658.83,254.00 L659.70,253.99 L660.56,253.98 L661.42,253.98 L662.28,253.97 L663.15,253.96 L664.01,253.96 L664.87,253.95 L665.73,253.94 L666.60,253.94 L667.46,253.93 L668.32,253.92 L669.18,253.92 L670.05,253.91 L670.91,253.90 L671.77,253.90 L672.63,253.89 L673.50,253.89 L674.36,253.88 L675.22,253.87 L676.08,253.87 L676.95,253.86 L677.81,253.85 L678.67,253.85 L679.53,253.84 L680.40,253.84 L681.26,253.83 L682.12,253.82 L682.98,253.82 L683.84,253.81 L684.71,253.81 L685.57,253.80 L686.43,253.79 L687.29,253.79 L688.16,253.78 L689.02,253.78 L689.88,253.77 L690.74,253.76 L691.61,253.76 L692.47,253.75 L693.33,253.75 L694.19,253.74 L695.06,253.74 L695.92,253.73 L696.78,253.72 L697.64,253.72 L698.51,253.71 L699.37,253.71 L700.23,253.70 L701.09,253.70 L701.96,253.69 L702.82,253.69 L703.68,253.68 L704.54,253.68 L705.41,253.67 L706.27,253.66 L707.13,253.66 L707.99,253.65 L708.86,253.65 L709.72,253.64 L710.58,253.64 L711.44,253.63 L712.31,253.63 L713.17,253.62 L714.03,253.62 L714.89,253.61 L715.76,253.61 L716.62,253.60 L717.48,253.60 L718.34,253.59 L719.21,253.59 L720.07,253.58 L720.93,253.58 L721.79,253.57 L722.66,253.57 L723.52,253.56 L724.38,253.56 L725.24,253.55 L726.11,253.55 L726.97,253.54 L727.83,253.54 L728.69,253.53 L729.56,253.53 L730.42,253.53 L731.28,253.52 L732.14,253.52 L733.01,253.51 L733.87,253.51 L734.73,253.50 L735.59,253.50 L736.46,253.49 L737.32,253.49 L738.18,253.48 L739.04,253.48 L739.91,253.48 L740.77,253.47 L741.63,253.47 L742.49,253.46 L743.36,253.46 L744.22,253.45 L745.08,253.45 L745.94,253.44 L746.81,253.44 L747.67,253.44 L748.53,253.43 L749.39,253.43 L750.26,253.42 L751.12,253.42 L751.98,253.41 L752.84,253.41 L753.71,253.41 L754.57,253.40 L755.43,253.40 L756.29,253.39 L757.16,253.39 L758.02,253.39 L758.88,253.38 L759.74,253.38 L760.61,253.37 L761.47,253.37 L762.33,253.37 L763.19,253.36 L764.06,253.36 L764.92,253.35 L765.78,253.35 L766.64,253.35 L767.51,253.34 L768.37,253.34 L768.80,253.34" stroke="#ff0000"/>
<path d="M122.15,252.0 H768.8" stroke="#000" stroke-width="1.8"/>
<path d="M124.17,-43.40 L124.28,-26.70 L124.39,-12.33 L124.50,0.27 L124.61,11.45 L124.72,21.49 L124.83,30.58 L124.94,38.87 L125.05,46.49 L125.16,53.52 L125.27,60.05 L125.38,66.13 L125.49,71.81 L125.60,77.14 L125.71,82.16 L125.82,86.89 L125.93,91.37 L126.05,95.61 L126.16,99.64 L126.27,103.47 L126.38,107.13 L126.49,110.61 L126.60,113.95 L126.71,117.14 L126.82,120.20 L126.93,123.14 L127.05,125.96 L127.16,128.67 L127.27,131.28 L127.38,133.80 L127.49,136.23 L127.60,138.57 L127.72,140.83 L127.83,143.02 L127.94,145.14 L128.05,147.19 L128.16,149.17 L128.28,151.10 L128.39,152.96 L128.50,154.77 L128.61,156.53 L128.73,158.24 L128.84,159.89 L128.95,161.51 L129.06,163.08 L129.18,164.60 L129.29,166.09 L129.40,167.54 L129.51,168.95 L129.63,170.32 L129.74,171.66 L129.85,172.97 L129.97,174.24 L130.08,175.49 L130.19,176.70 L130.31,177.89 L130.42,179.05 L130.53,180.18 L130.65,181.29 L130.76,182.37 L130.87,183.43 L130.99,184.46 L131.10,185.48 L131.22,186.47 L131.33,187.44 L131.44,188.39 L131.56,189.32 L131.67,190.23 L131.79,191.12 L131.90,191.99 L132.02,192.85 L132.13,193.69 L132.24,194.51 L132.36,195.32 L132.47,196.11 L132.59,196.89 L132.70,197.65 L132.82,198.40 L132.93,199.13 L133.05,199.85 L133.16,200.56 L133.28,201.25 L133.39,201.94 L133.51,202.61 L133.62,203.26 L133.74,203.91 L133.85,204.54 L133.97,205.17 L134.08,205.78 L134.20,206.38 L134.31,206.97 L134.55,208.13 L134.78,209.24 L135.01,210.32 L135.24,211.37 L135.47,212.38 L135.71,213.36 L135.94,214.30 L136.17,215.22 L136.40,216.11 L136.64,216.98 L136.87,217.82 L137.10,218.63 L137.34,219.42 L137.57,220.18 L137.81,220.93 L138.04,221.65 L138.28,222.35 L138.51,223.04 L138.75,223.70 L138.98,224.35 L139.22,224.97 L139.45,225.59 L139.69,226.18 L139.93,226.76 L140.16,227.32 L140.40,227.87 L140.63,228.40 L140.87,228.92 L141.11,229.43 L141.35,229.92 L141.58,230.40 L141.82,230.87 L142.18,231.55 L142.54,232.21 L142.89,232.84 L143.25,233.45 L143.61,234.04 L143.97,234.60 L144.33,235.15 L144.69,235.67 L145.05,236.18 L145.41,236.67 L145.77,237.14 L146.13,237.60 L146.49,238.04 L146.85,238.46 L147.22,238.87 L147.58,239.27 L147.94,239.65 L148.30,240.03 L148.67,240.38 L149.03,240.73 L149.52,241.18 L150.00,241.60 L150.49,242.01 L150.98,242.40 L151.46,242.77 L151.95,243.13 L152.44,243.47 L152.93,243.80 L153.42,244.12 L153.91,244.42 L154.40,244.71 L154.89,244.99 L155.38,245.25 L155.87,245.51 L156.37,245.75 L156.86,245.99 L157.35,246.21 L157.84,246.43 L158.34,246.64 L158.96,246.89 L159.57,247.12 L160.19,247.35 L160.81,247.56 L161.43,247.77 L162.05,247.96 L162.67,248.14 L163.29,248.32 L163.92,248.49 L164.54,248.64 L165.16,248.80 L165.78,248.94 L166.41,249.08 L167.03,249.21 L167.66,249.33 L168.28,249.45 L168.91,249.57 L169.53,249.67 L170.16,249.78 L170.78,249.88 L171.41,249.97 L172.04,250.06 L172.66,250.14 L173.29,250.22 L173.92,250.30 L174.55,250.38 L175.30,250.46 L176.05,250.54 L176.81,250.61 L177.56,250.69 L178.32,250.75 L179.07,250.82 L179.83,250.88 L180.58,250.93 L181.34,250.99 L182.10,251.04 L182.85,251.09 L183.61,251.13 L184.37,251.18 L185.13,251.22 L185.88,251.25 L186.64,251.29 L187.40,251.33 L188.16,251.36 L188.92,251.39 L189.68,251.42 L190.18,251.44" stroke="#008e00" stroke-dasharray="6.5 3.02 1.9 3.02" stroke-dashoffset="-0.35"/>
</g>
<path d="M190.9,251.94 H358.6" stroke="#1fa8a8" stroke-width="1.75" stroke-dasharray="6.4 3 1.8 2.98" stroke-dashoffset="-0.6" fill="none"/>
<path d="M190.9,251.49 h6.4" stroke="#00ffff" stroke-width="1.2" fill="none"/>
<rect x="122.15" y="14.28" width="646.65" height="475.32" fill="none" stroke="#000" stroke-width="1.4"/>
<g fill="none" stroke-width="1.68">
<path d="M683.45,46.1 H754.9" stroke="#0000ff" stroke-dasharray="6.44 6.44"/>
<path d="M683.45,78.3 H754.9" stroke="#ff00ff" stroke-dasharray="2.2 5.82" stroke-dashoffset="-1.6"/>
<path d="M683.45,110.5 H754.9" stroke="#ff0000"/>
<path d="M683.45,142.5 H754.9" stroke="#008e00" stroke-dasharray="6.5 3.02 1.9 3.02"/>
</g>
<text x="669.7" y="53.80" text-anchor="end">topological action of Subsect. 2.2</text>
<text x="669.7" y="86.60" text-anchor="end">topological action of Subsect. 2.3</text>
<text x="673.2" y="118.25" text-anchor="end">standard lattice action</text>
<text x="671.1" y="150.65" text-anchor="end">classically perfect action</text>
<text transform="translate(161.38,522.9) scale(1,1.045)" text-anchor="middle">2</text>
<text transform="translate(229.45,522.9) scale(1,1.045)" text-anchor="middle">4</text>
<text transform="translate(297.52,522.9) scale(1,1.045)" text-anchor="middle">6</text>
<text transform="translate(365.59,522.9) scale(1,1.045)" text-anchor="middle">8</text>
<path d="M350,0 L258,0 L258,500 L93,500 L93,570 C200,572 262,615 285,709 L350,709 Z" transform="translate(418.76,522.70) scale(0.02917,-0.02917)" fill="#000"/>
<text transform="translate(434.66,522.9) scale(1,1.045)">0</text>
<path d="M350,0 L258,0 L258,500 L93,500 L93,570 C200,572 262,615 285,709 L350,709 Z" transform="translate(486.83,522.70) scale(0.02917,-0.02917)" fill="#000"/>
<text transform="translate(502.73,522.9) scale(1,1.045)">2</text>
<path d="M350,0 L258,0 L258,500 L93,500 L93,570 C200,572 262,615 285,709 L350,709 Z" transform="translate(554.89,522.70) scale(0.02917,-0.02917)" fill="#000"/>
<text transform="translate(570.79,522.9) scale(1,1.045)">4</text>
<path d="M350,0 L258,0 L258,500 L93,500 L93,570 C200,572 262,615 285,709 L350,709 Z" transform="translate(622.96,522.70) scale(0.02917,-0.02917)" fill="#000"/>
<text transform="translate(638.86,522.9) scale(1,1.045)">6</text>
<path d="M350,0 L258,0 L258,500 L93,500 L93,570 C200,572 262,615 285,709 L350,709 Z" transform="translate(691.03,522.70) scale(0.02917,-0.02917)" fill="#000"/>
<text transform="translate(706.93,522.9) scale(1,1.045)">8</text>
<text transform="translate(775.40,522.9) scale(1,1.045)" text-anchor="middle">20</text>
<text transform="translate(109.9,497.90) scale(1,1.045)" text-anchor="end">2</text>
<text transform="translate(113.1,439.19) scale(1,1.045)" text-anchor="end">2.5</text>
<text transform="translate(109.9,379.77) scale(1,1.045)" text-anchor="end">3</text>
<text transform="translate(113.1,320.36) scale(1,1.045)" text-anchor="end">3.5</text>
<text transform="translate(109.9,260.94) scale(1,1.045)" text-anchor="end">4</text>
<text transform="translate(113.1,201.52) scale(1,1.045)" text-anchor="end">4.5</text>
<text transform="translate(109.9,142.11) scale(1,1.045)" text-anchor="end">5</text>
<text transform="translate(113.1,82.69) scale(1,1.045)" text-anchor="end">5.5</text>
<text transform="translate(109.9,23.28) scale(1,1.045)" text-anchor="end">6</text>
<text transform="translate(421.3,561.3) scale(0.93,1)" stroke="#000" stroke-width="0.45" style="font-family:'Liberation Serif',serif;font-size:32.3px">ξ</text>
<text x="442.0" y="560.9">/</text><text x="457.7" y="560.9">a</text>
<g transform="translate(25.4,0) rotate(-90)" text-anchor="middle">
<text transform="translate(-359.80,0) scale(0.82,1)">(</text>
<text x="-344.85" y="0">E</text>
<text x="-329.90" y="8.2" style="font-size:22.88px">2</text>
<text x="-310.90" y="3.0">−</text>
<text x="-277.70" y="0">E</text>
<text x="-263.20" y="8.3" style="font-size:22.88px">0</text>
<text transform="translate(-250.30,0) scale(0.82,1)">)</text>
<text x="-233.75" y="0">/</text>
<text transform="translate(-218.00,0) scale(0.82,1)">(</text>
<text x="-202.40" y="0">E</text>
<path d="M350,0 L258,0 L258,500 L93,500 L93,570 C200,572 262,615 285,709 L350,709 Z" transform="translate(-191.60,7.40) scale(0.02219,-0.02219)" fill="#000"/>
<text x="-166.40" y="3.0">−</text>
<text x="-132.60" y="0">E</text>
<text x="-117.80" y="8.3" style="font-size:22.88px">0</text>
<text transform="translate(-105.55,0) scale(0.82,1)">)</text>
</g>
</svg></body></html>
